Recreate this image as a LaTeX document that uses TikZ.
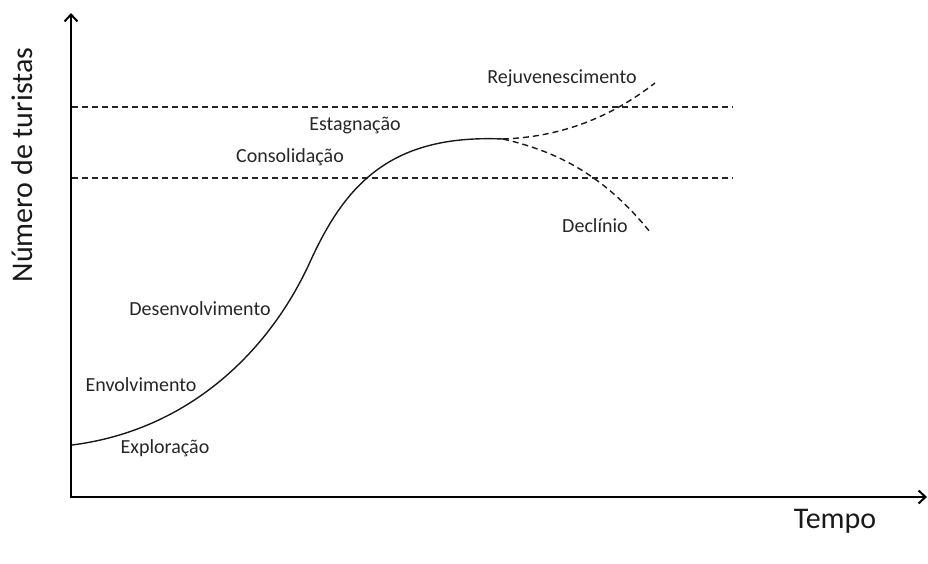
\documentclass[tikz,border=0pt]{standalone}
\usepackage{fontspec}
\setmainfont{Carlito}
\usetikzlibrary{arrows.meta}
\begin{document}
\begin{tikzpicture}[x=1pt,y=-1pt,
  axis/.style={line width=2.6pt,-{Straight Barb[length=7pt,width=13pt,line width=2pt]}},
  guide/.style={line width=1.3pt,dash pattern=on 6pt off 4pt,black!85},
  curve/.style={line width=1.4pt,black!90},
  branch/.style={line width=1.4pt,dash pattern=on 6pt off 4pt,black!90},
  lbl/.style={font=\fontsize{20}{24}\selectfont,text=black!85,inner sep=0pt},
  title/.style={font=\fontsize{30}{36}\selectfont,text=black!90,inner sep=0pt}]
\useasboundingbox (0,0) rectangle (928,563);
% axes
\coordinate (ytip) at (71,13);
\coordinate (xtip) at (927,497);
\draw[axis] (71,498.3) -- (ytip);
\draw[axis] (69.7,497) -- (xtip);
% guides
\coordinate (g1a) at (72,107);
\coordinate (g1b) at (733,107);
\coordinate (g2a) at (72,178);
\coordinate (g2b) at (733,178);
\draw[guide] (g1a) -- (g1b);
\draw[guide] (g2a) -- (g2b);
% main curve
\coordinate (s) at (72,445);
\coordinate (m) at (310,262);
\coordinate (p) at (503,139);
\draw[curve] (s) .. controls (190,430) and (270,350) .. (m)
                 .. controls (345,185) and (390,134) .. (p);
% branches
\coordinate (up) at (655,83);
\coordinate (dn) at (650,232);
\draw[branch] (p) .. controls (560,137) and (610,118) .. (up);
\draw[branch] (p) .. controls (550,150) and (600,170) .. (dn);
% labels
\node[lbl] (rej) at (562,78) {Rejuvenescimento};
\node[lbl] (est) at (355,126) {Estagnação};
\node[lbl] (con) at (290,157) {Consolidação};
\node[lbl] (dec) at (595,226) {Declínio};
\node[lbl] (des) at (200,309) {Desenvolvimento};
\node[lbl] (env) at (141,385) {Envolvimento};
\node[lbl] (exp) at (165,448) {Exploração};
\node[title] (tempo) at (835,521) {Tempo};
\node[title,rotate=90] (num) at (22,165) {Número de turistas};
\end{tikzpicture}
\end{document}
